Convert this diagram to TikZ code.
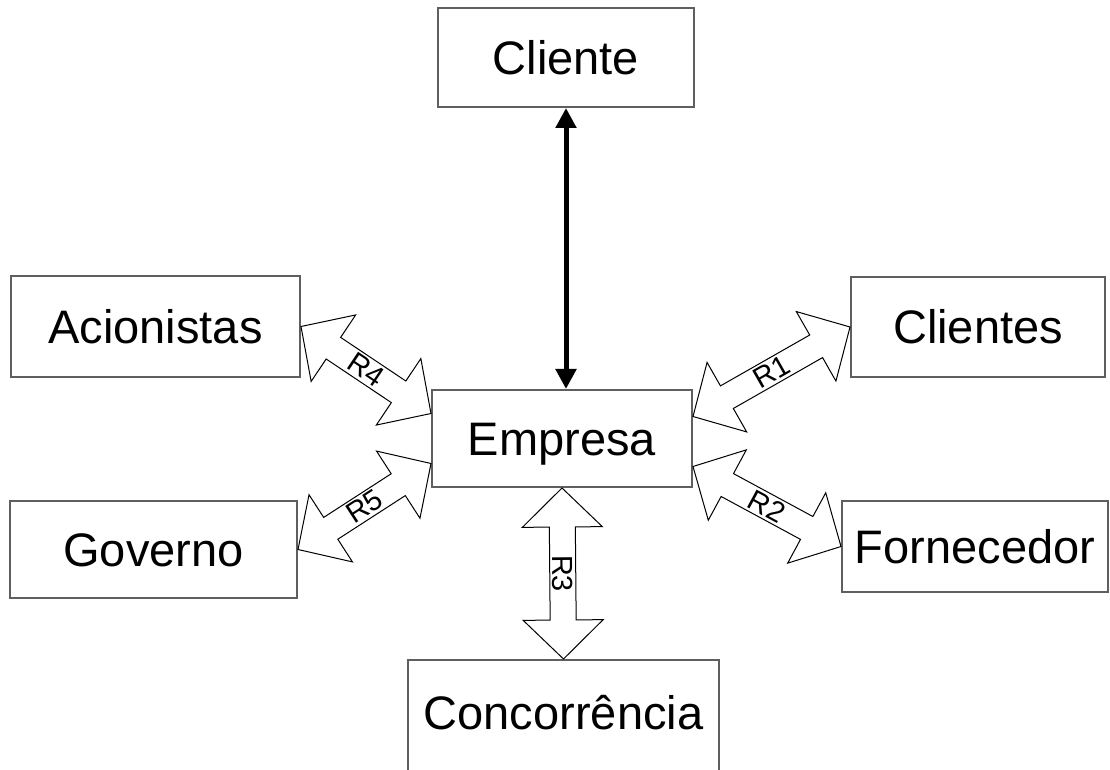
\documentclass[tikz,border=0pt]{standalone}
\usepackage{fontspec}
\setmainfont{Liberation Sans}
\usetikzlibrary{calc,arrows.meta}

% Hollow double-headed block arrow between two points, with a label along it
\newcommand\blockarrow[3]{%
  \draw[blockline]
    (#1)
    -- ($(#1)!\hl!(#2)!\hw!90:(#2)$)
    -- ($(#1)!\hl!(#2)!\sw!90:(#2)$)
    -- ($(#2)!\hl!(#1)!\sw!-90:(#1)$)
    -- ($(#2)!\hl!(#1)!\hw!-90:(#1)$)
    -- (#2)
    -- ($(#2)!\hl!(#1)!\hw!90:(#1)$)
    -- ($(#2)!\hl!(#1)!\sw!90:(#1)$)
    -- ($(#1)!\hl!(#2)!\sw!-90:(#2)$)
    -- ($(#1)!\hl!(#2)!\hw!-90:(#2)$)
    -- cycle;
  \path (#1) -- (#2) node[midway, sloped, rlabel] {#3};%
}
\newcommand\hl{39pt}
\newcommand\hw{40pt}
\newcommand\sw{13pt}

\tikzset{
  box/.style={draw=boxgray, line width=2pt, rectangle, inner sep=0pt,
    text height=34pt, text depth=0pt,
    font=\fontsize{47}{56}\selectfont},
  blockline/.style={draw=black, line width=1pt, fill=white, line join=miter},
  rlabel/.style={font=\fontsize{29}{34}\selectfont, inner sep=0pt},
  thickarrow/.style={line width=5pt,
    {Triangle[length=20pt,width=20pt]}-{Triangle[length=20pt,width=20pt]}},
}
\definecolor{boxgray}{RGB}{95,95,95}

\begin{document}
\begin{tikzpicture}[x=1pt,y=1pt]
  \useasboundingbox (0,0) rectangle (1110,769);

  % entities
  \node[box, minimum width=256pt, minimum height=99pt]  (cli)   at (566,711.5)   {Cliente};
  \node[box, minimum width=289pt, minimum height=101pt] (acion) at (155.5,442.5) {Acionistas};
  \node[box, minimum width=254pt, minimum height=100pt] (clis)  at (978,442)     {Clientes};
  \node[box, minimum width=260pt, minimum height=97pt]  (emp)   at (562,330.5)   {Empresa};
  \node[box, minimum width=287pt, minimum height=97pt]  (gov)   at (153.5,219.5) {Governo};
  \node[box, minimum width=266pt, minimum height=91pt]  (forn)  at (975,222.5)   {Fornecedor};
  \node[box, anchor=north, minimum width=311pt, minimum height=0pt,
        inner ysep=35.5pt, text depth=30pt] (conc) at (563.5,110) {Concorrência};

  % attachment points on the sides of Empresa
  \coordinate (empR4) at ($(emp.west)+(0,25)$);
  \coordinate (empR5) at ($(emp.west)+(0,-25)$);
  \coordinate (empR1) at ($(emp.east)+(0,22)$);
  \coordinate (empR2) at ($(emp.east)+(0,-28)$);

  % relations
  \blockarrow{acion.east}{empR4}{R4}
  \blockarrow{gov.east}{empR5}{R5}
  \blockarrow{empR1}{clis.west}{R1}
  \blockarrow{empR2}{forn.west}{R2}
  \blockarrow{conc.north}{emp.south}{R3}

  % direct link to the client
  \draw[thickarrow] (cli.south) -- (cli.south |- emp.north);
\end{tikzpicture}
\end{document}
